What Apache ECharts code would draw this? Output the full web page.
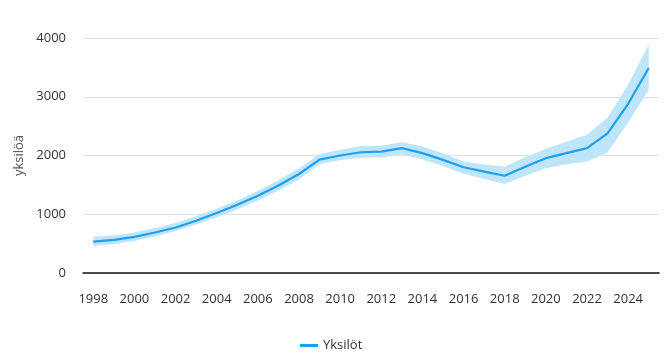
<!DOCTYPE html>
<html>
<head>
<meta charset="utf-8">
<script src="https://cdn.jsdelivr.net/npm/echarts@6/dist/echarts.min.js"></script>
<style>
  html, body { margin: 0; padding: 0; background: #fff; }
  #chart { width: 671px; height: 353px; }
</style>
</head>
<body>
<div id="chart"></div>
<script>
var years = ['1998', '1999', '2000', '2001', '2002', '2003', '2004', '2005', '2006', '2007',
    '2008', '2009', '2010', '2011', '2012', '2013', '2014', '2015', '2016', '2017',
    '2018', '2019', '2020', '2021', '2022', '2023', '2024', '2025'];
// arvio
var estimate = [535, 565, 615, 690, 775, 890, 1020, 1160, 1315, 1490,
    1685, 1930, 2000, 2055, 2065, 2125, 2040, 1925, 1800, 1725,
    1655, 1810, 1955, 2040, 2125, 2375, 2880, 3490];
// luottamusväli
var upper = [620, 640, 690, 765, 850, 965, 1095, 1240, 1400, 1580,
    1785, 2025, 2100, 2160, 2165, 2230, 2155, 2040, 1900, 1850,
    1810, 1975, 2115, 2235, 2355, 2645, 3210, 3890];
var lower = [460, 495, 545, 620, 715, 825, 950, 1085, 1235, 1405,
    1590, 1855, 1920, 1960, 1965, 2015, 1930, 1820, 1690, 1600,
    1515, 1655, 1785, 1850, 1900, 2050, 2560, 3120];
var yTicks = [0, 1000, 2000, 3000, 4000];

var bandWidth = upper.map(function (v, i) { return v - lower[i]; });

var chart = echarts.init(document.getElementById('chart'));
var font = '"Open Sans", "Noto Sans", sans-serif';
var option = {
    animation: false,
    textStyle: { fontFamily: font },
    grid: { left: 83, right: 12, top: 38, bottom: 80 },
    legend: {
        data: ['Yksilöt'],
        top: 334,
        left: 295,
        icon: 'rect',
        itemWidth: 18,
        itemHeight: 3,
        itemGap: 10,
        textStyle: { color: '#333', fontSize: 13, fontFamily: font }
    },
    xAxis: {
        type: 'category',
        data: years,
        boundaryGap: true,
        axisLine: { lineStyle: { color: '#111', width: 1.5 } },
        axisTick: { show: false },
        axisLabel: { interval: 1, color: '#333', fontSize: 13, margin: 20, fontFamily: font }
    },
    yAxis: {
        type: 'value',
        min: yTicks[0],
        max: yTicks[yTicks.length - 1],
        interval: 1000,
        name: 'yksilöä',
        nameLocation: 'middle',
        nameGap: 57,
        nameTextStyle: { color: '#555', fontSize: 13, fontFamily: font },
        axisLine: { show: false },
        axisTick: { show: false },
        axisLabel: {
            color: '#333', fontSize: 13, margin: 17, fontFamily: font,
            formatter: function (v) { return String(v); }
        },
        splitLine: { lineStyle: { color: '#e0e0e0' } }
    },
    series: [
        {
            name: 'alaraja',
            type: 'line',
            stack: 'band',
            data: lower,
            symbol: 'none',
            lineStyle: { opacity: 0 },
            silent: true
        },
        {
            name: 'väli',
            type: 'line',
            stack: 'band',
            data: bandWidth,
            symbol: 'none',
            lineStyle: { opacity: 0 },
            areaStyle: { color: '#bfe5fb', opacity: 1 },
            silent: true
        },
        {
            name: 'Yksilöt',
            type: 'line',
            data: estimate,
            symbol: 'none',
            color: '#1f9ff0',
            lineStyle: { color: '#1f9ff0', width: 2.2 }
        }
    ]
};
chart.setOption(option);
</script>
</body>
</html>
